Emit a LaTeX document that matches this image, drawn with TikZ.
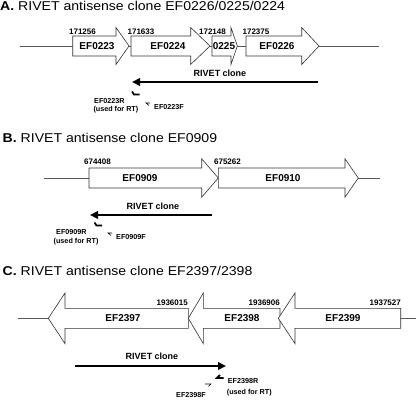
\documentclass[tikz,border=0pt]{standalone}
\usepackage{fontspec}
\setmainfont{Liberation Sans}
\newfontfamily\titlefont[FakeStretch=1.1]{Liberation Sans}
\usetikzlibrary{arrows.meta}
\tikzset{
  gene/.style={draw=black!80, fill=white, line width=0.6pt},
  dna/.style={draw=black!65, line width=0.6pt},
  genelbl/.style={font=\bfseries\fontsize{10}{12}\selectfont, inner sep=0pt},
  coordlbl/.style={font=\bfseries\fontsize{8}{9}\selectfont, inner sep=0pt},
  clonelbl/.style={font=\bfseries\fontsize{9}{11}\selectfont, inner sep=0pt},
  primerlbl/.style={font=\bfseries\fontsize{7.2}{8}\selectfont, inner sep=0pt, anchor=west},
  paneltitle/.style={font=\titlefont\fontsize{12.8}{14}\selectfont, inner sep=0pt, anchor=base west},
  clonearrow/.style={line width=2.6pt, -{Triangle[length=8pt,width=7.5pt]}},
  rprimer/.style={line width=1.8pt},
  fprimer/.style={line width=0.6pt},
}
% tail, head base, tip, y, head half height
\newcommand\gene[5]{%
  \draw[gene] (#1,#4-10) -- (#2,#4-10) -- (#2,#4-#5) -- (#3,#4) -- (#2,#4+#5) -- (#2,#4+10) -- (#1,#4+10) -- cycle;}
\begin{document}
\begin{tikzpicture}[x=1pt,y=-1pt]
    \useasboundingbox (0,0) rectangle (416,402);

    % A
    \node[paneltitle] (ttlA) at (0,10) {\textbf{A.} RIVET antisense clone EF0226/0225/0224};
    \draw[dna] (20,46) -- (379,46);
    \gene{72.7}{116}{129}{46}{18.5}
    \gene{131}{190.7}{210}{46}{18.5}
    \gene{212}{231}{237.3}{46}{18.5}
    \gene{246}{301.7}{319}{46}{18.5}
    \node[genelbl] (ef0223) at (97,46) {EF0223};
    \node[genelbl] (ef0224) at (168,46) {EF0224};
    \node[genelbl] (ef0225) at (224,46) {0225};
    \node[genelbl] (ef0226) at (277,46) {EF0226};
    \foreach \x/\n in {82.5/171256,141/171633,212.5/172148,256/172375}{
        \node[coordlbl] (pos\n) at (\x,31.5) {\n};
    };
    \coordinate (cloneAs) at (318,82);
    \coordinate (cloneAe) at (132,82);
    \draw[clonearrow] (cloneAs) -- (cloneAe);
    \node[clonelbl] (cloneA) at (220,73.5) {RIVET clone};
    \draw[rprimer] (132,91.5) -- (134,94.5) -- (139.5,94.5);
    \draw[fprimer] (150,103) -- (146,103) -- (149,105.5);
    \node[primerlbl] (ef0223r) at (94,100.8) {EF0223R};
    \node[primerlbl] (rtA) at (93.3,109.5) {(used for RT)};
    \node[primerlbl] (ef0223f) at (154,107.5) {EF0223F};

    % B
    \node[paneltitle] (ttlB) at (2.5,142) {\textbf{B.} RIVET antisense clone EF0909};
    \draw[dna] (44,178) -- (380,178);
    \gene{89}{201.7}{218.3}{178}{19.2}
    \gene{218.3}{345}{358.3}{178}{19.2}
    \node[genelbl] (ef0909) at (140,178) {EF0909};
    \node[genelbl] (ef0910) at (283,178) {EF0910};
    \foreach \x/\n in {97.5/674408,227.5/675262}{
        \node[coordlbl] (pos\n) at (\x,161.5) {\n};
    };
    \coordinate (cloneBs) at (212,215);
    \coordinate (cloneBe) at (90,215);
    \draw[clonearrow] (cloneBs) -- (cloneBe);
    \node[clonelbl] (cloneB) at (153,206) {RIVET clone};
    \draw[rprimer] (94.5,222.5) -- (96.5,225.5) -- (102,225.5);
    \draw[fprimer] (112,233) -- (108,233) -- (111,235.5);
    \node[primerlbl] (ef0909r) at (56,232) {EF0909R};
    \node[primerlbl] (rtB) at (53.5,241.7) {(used for RT)};
    \node[primerlbl] (ef0909f) at (116,237.5) {EF0909F};

    % C
    \node[paneltitle] (ttlC) at (2.5,275) {\textbf{C.} RIVET antisense clone EF2397/2398};
    \draw[dna] (18,318.3) -- (416,318.3);
    \gene{188.3}{65}{48.3}{318.3}{25.3}
    \gene{280}{203.3}{188.3}{318.3}{25.3}
    \gene{400.7}{295}{278.3}{318.3}{25.3}
    \node[genelbl] (ef2397) at (123,318.3) {EF2397};
    \node[genelbl] (ef2398) at (242,318.3) {EF2398};
    \node[genelbl] (ef2399) at (343,318.3) {EF2399};
    \foreach \x/\n in {188/1936015,280/1936906,401/1937527}{
        \node[coordlbl, anchor=east] (pos\n) at (\x,302.5) {\n};
    };
    \coordinate (cloneCs) at (75,366);
    \coordinate (cloneCe) at (226,366);
    \draw[clonearrow] (cloneCs) -- (cloneCe);
    \node[clonelbl] (cloneC) at (152,356) {RIVET clone};
    \draw[rprimer] (220,375) -- (217,378) -- (223.5,378);
    \draw[fprimer] (205,384) -- (211,384) -- (208.5,386.5);
    \node[primerlbl] (ef2398r) at (227.7,381) {EF2398R};
    \node[primerlbl] (rtC) at (226.7,393) {(used for RT)};
    \node[primerlbl] (ef2398f) at (176,395) {EF2398F};
\end{tikzpicture}
\end{document}
